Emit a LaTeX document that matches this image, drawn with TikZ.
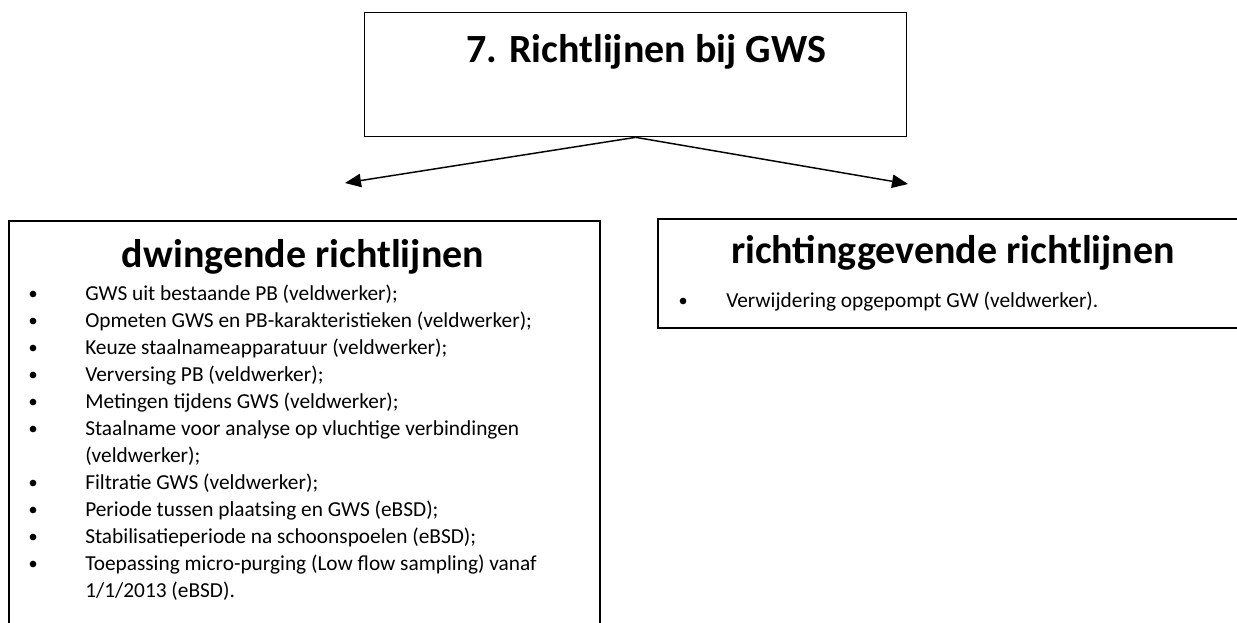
\documentclass[tikz,border=0pt]{standalone}
\usepackage{fontspec}
\setmainfont{Carlito}
\usetikzlibrary{arrows.meta}

\tikzset{
	box/.style={draw, line width=1.2pt, anchor=north west, inner sep=0pt},
	head/.style={font=\fontsize{30}{36}\selectfont\bfseries, anchor=base},
	entry/.style={font=\fontsize{16}{20}\selectfont, anchor=base west, inner sep=0pt},
	dot/.style={circle, fill=black, inner sep=0pt, minimum size=5pt},
	link/.style={line width=1.1pt, -{Triangle[length=12pt,width=10pt]}}
}

\begin{document}
\begin{tikzpicture}[x=0.75pt, y=-0.75pt]
		%%%%% START %%%%%
		\useasboundingbox (0, 0) rectangle (1237, 622);
		\clip (0, 0) rectangle (1237, 622);
		
		% top box
		\node[box, line width=1pt, minimum width=406.5pt, minimum height=93pt] (top) at (364, 12) {};
		\node[head] (toptitle) at (646, 62) {7. Richtlijnen bij GWS};
		
		% arrows
		\coordinate (lefttip) at (345, 183);
		\coordinate (righttip) at (908, 184);
		\draw[link] (top.south) -- (lefttip);
		\draw[link] (top.south) -- (righttip);
		
		% left box
		\node[box, minimum width=443.25pt, minimum height=315pt] (leftbox) at (8, 220) {};
		\node[head] (lefthead) at (303, 267) {dwingende richtlijnen};
		\foreach \txt [count=\k from 0] in {
			{GWS uit bestaande PB (veldwerker);},
			{Opmeten GWS en PB-karakteristieken (veldwerker);},
			{Keuze staalnameapparatuur (veldwerker);},
			{Verversing PB (veldwerker);},
			{Metingen tijdens GWS (veldwerker);},
			{Staalname voor analyse op vluchtige verbindingen},
			{(veldwerker);},
			{Filtratie GWS (veldwerker);},
			{Periode tussen plaatsing en GWS (eBSD);},
			{Stabilisatieperiode na schoonspoelen (eBSD);},
			{Toepassing micro-purging (Low flow sampling) vanaf},
			{1/1/2013 (eBSD).}}
			\node[entry] (item\k) at (85, {300+27*\k}) {\txt};
		\foreach \k in {0,1,2,3,4,5,7,8,9,10}
			\node[dot] (dot\k) at (33, {294+27*\k}) {};
		
		% right box
		\node[box, minimum width=444pt, minimum height=81.75pt] (rightbox) at (657, 218) {};
		\node[head] (righthead) at (953, 263) {richtinggevende richtlijnen};
		\node[entry] (ritem) at (726, 307) {Verwijdering opgepompt GW (veldwerker).};
		\node[dot] (rdot) at (683, 301) {};
		
		%%%%% END %%%%%
\end{tikzpicture}
\end{document}
